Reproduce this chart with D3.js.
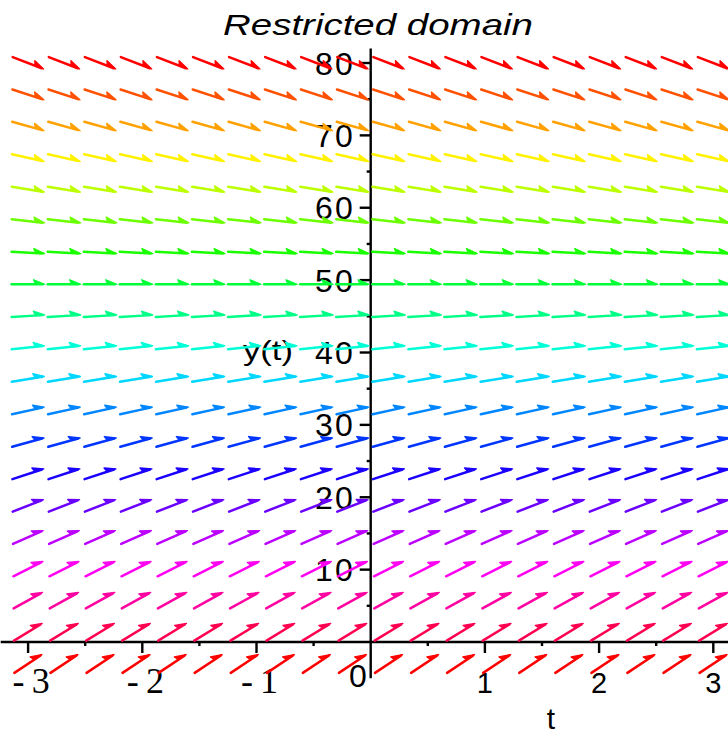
<!DOCTYPE html>
<html>
<head>
<meta charset="utf-8">
<script src="https://cdn.jsdelivr.net/npm/d3@7"></script>
<style>
  body { margin: 0; background: #fff; }
  svg { display: block; }
</style>
</head>
<body>
<script>
// arrow grid (t columns, y rows) and slope dy/dt of each row
const tGrid = [-3, -2.684, -2.368, -2.053, -1.737, -1.421, -1.105, -0.789, -0.474, -0.158,
               0.158, 0.474, 0.789, 1.105, 1.421, 1.737, 2.053, 2.368, 2.684, 3]
const yGrid = [-3, 1.37, 5.74, 10.1, 14.47, 18.84, 23.21, 27.58, 31.95, 36.32,
               40.68, 45.05, 49.42, 53.79, 58.16, 62.53, 66.89, 71.26, 75.63, 80]
const slopes = [10.5, 9.6, 8.7, 7.9, 7.0, 6.1, 5.2, 4.4, 3.5, 2.6,
                1.7, 0.9, 0, -0.9, -1.75, -2.6, -3.5, -4.4, -5.2, -6.1]

const xMajor = [-3, -2, -1, 1, 2, 3]
const xMinor = [-2.5, -1.5, -0.5, 0.5, 1.5, 2.5]
const yMajor = [10, 20, 30, 40, 50, 60, 70, 80]
const yMinor = [5, 15, 25, 35, 45, 55, 65, 75]

const W = 728, H = 735

const svg = d3.select('body').append('svg')
    .attr('width', W)
    .attr('height', H)

const x = d3.scaleLinear().domain([-3, 3]).range([28.1, 713.3])
const y = d3.scaleLinear().domain([0, 80]).range([642, 63])

const axes = svg.append('g')

// axis lines
axes.append('line')
    .attr('x1', x(-3.24)).attr('x2', W)
    .attr('y1', y(0)).attr('y2', y(0))
    .attr('stroke', '#000').attr('stroke-width', 2.4)
axes.append('line')
    .attr('x1', x(0)).attr('x2', x(0))
    .attr('y1', y(82)).attr('y2', y(-5))
    .attr('stroke', '#000').attr('stroke-width', 2.4)

// ticks
axes.selectAll('.xt').data(xMajor).enter().append('line')
    .attr('x1', d => x(d)).attr('x2', d => x(d))
    .attr('y1', y(0)).attr('y2', y(0) + 11)
    .attr('stroke', '#000').attr('stroke-width', 2.4)
axes.selectAll('.xm').data(xMinor).enter().append('line')
    .attr('x1', d => x(d)).attr('x2', d => x(d))
    .attr('y1', y(0)).attr('y2', y(0) + 4)
    .attr('stroke', '#000').attr('stroke-width', 2.4)
axes.selectAll('.yt').data(yMajor).enter().append('line')
    .attr('x1', x(0) - 11).attr('x2', x(0))
    .attr('y1', d => y(d)).attr('y2', d => y(d))
    .attr('stroke', '#000').attr('stroke-width', 2.4)
axes.selectAll('.ym').data(yMinor).enter().append('line')
    .attr('x1', x(0) - 4).attr('x2', x(0))
    .attr('y1', d => y(d)).attr('y2', d => y(d))
    .attr('stroke', '#000').attr('stroke-width', 2.4)

// tick labels
axes.selectAll('.xl').data(xMajor).enter().append('text')
    .attr('x', d => x(d) + (d < 0 ? 3 : 0))
    .attr('y', 693)
    .attr('text-anchor', 'middle')
    .style('font-family', d => d < 0 ? '"Liberation Serif", serif' : '"Liberation Sans", Arial, sans-serif')
    .style('font-size', d => d < 0 ? '36px' : '29px')
    .text(d => d < 0 ? '-\u2009' + Math.abs(d) : d)

axes.selectAll('.yl').data(yMajor).enter().append('text')
    .attr('x', x(0) - 16)
    .attr('y', d => y(d) + 11.5)
    .attr('text-anchor', 'end')
    .style('font-family', '"Liberation Sans", Arial, sans-serif')
    .style('font-size', '32px')
    .style('letter-spacing', '2px')
    .text(d => d)

axes.append('text')
    .attr('x', 358).attr('y', 687)
    .attr('text-anchor', 'middle')
    .style('font-family', '"Liberation Sans", Arial, sans-serif')
    .style('font-size', '32px')
    .text('0')

// axis titles
axes.append('text')
    .attr('x', 243).attr('y', 360)
    .attr('textLength', 50)
    .attr('lengthAdjust', 'spacingAndGlyphs')
    .style('font-family', '"Liberation Sans", Arial, sans-serif')
    .style('font-size', '28px')
    .text('y(t)')
axes.append('text')
    .attr('x', 551).attr('y', 729)
    .attr('text-anchor', 'middle')
    .style('font-family', '"Liberation Sans", Arial, sans-serif')
    .style('font-size', '30px')
    .text('t')

svg.append('text')
    .attr('x', 223).attr('y', 35)
    .attr('textLength', 310)
    .attr('lengthAdjust', 'spacingAndGlyphs')
    .style('font-family', '"Liberation Sans", Arial, sans-serif')
    .style('font-style', 'italic')
    .style('font-size', '30px')
    .text('Restricted domain')

// direction field arrows
const half = 16.5
const cells = []
yGrid.forEach((yv, i) => {
    tGrid.forEach(tv => cells.push({ t: tv, y: yv, s: slopes[i], row: i }))
})

svg.append('g')
    .selectAll('g')
    .data(cells).enter()
    .append('g')
    .each(function (d) {
        const cx = x(d.t), cy = y(d.y)
        // direction in screen space
        const dx = x(1) - x(0), dy = y(d.s) - y(0)
        const len = Math.hypot(dx, dy)
        const ux = dx / len, uy = dy / len
        const nx = uy, ny = -ux   // left-hand normal (visually above)
        const col = d3.hsl((19 - d.row) * 360 / 19, 1, 0.5).toString()
        const tx = cx + ux * half, ty = cy + uy * half
        const g = d3.select(this)
        g.append('line')
            .attr('x1', cx - ux * half).attr('y1', cy - uy * half)
            .attr('x2', tx - ux * 2).attr('y2', ty - uy * 2)
            .attr('stroke', col).attr('stroke-width', 2.5)
            .attr('stroke-linecap', 'round')
        g.append('path')
            .attr('d', `M${tx},${ty}L${tx - ux * 11 + nx * 4.5},${ty - uy * 11 + ny * 4.5}L${tx - ux * 9},${ty - uy * 9}Z`)
            .attr('fill', col).attr('stroke', col).attr('stroke-width', 1.4)
            .attr('stroke-linejoin', 'round')
    })
</script>
</body>
</html>
